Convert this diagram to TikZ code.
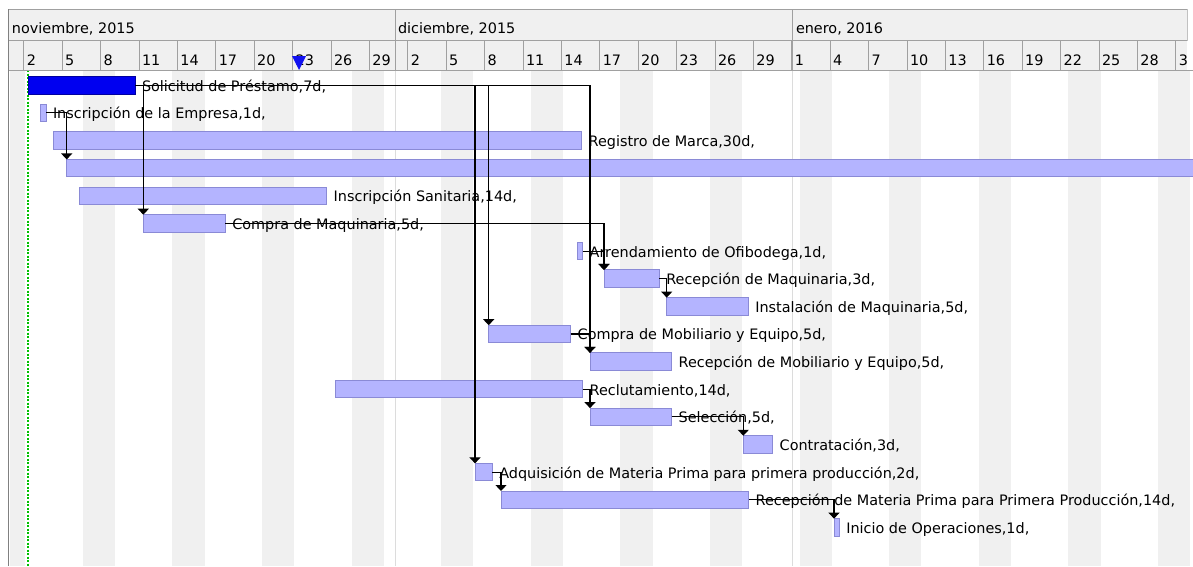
\documentclass[tikz,border=0pt]{standalone}
\usepackage{fontspec}
\setmainfont{DejaVu Sans}
\usetikzlibrary{arrows.meta}

\definecolor{hdrbg}{HTML}{F0F0F0}
\definecolor{hdrline}{HTML}{A0A0A0}
\definecolor{frameline}{HTML}{808080}
\definecolor{wkend}{HTML}{F0F0F0}
\definecolor{monthsep}{HTML}{DCDCDC}
\definecolor{taskfill}{HTML}{B4B4FF}
\definecolor{taskedge}{HTML}{8A8AD6}
\definecolor{critfill}{HTML}{0000F0}
\definecolor{critedge}{HTML}{0000A0}
\definecolor{startline}{HTML}{00C000}
\definecolor{todaymark}{HTML}{1010F0}

% one task row: optional bar style, name, row number, start x, end x, label
\newcommand\ganttrow[6][taskbar]{%
  \pgfmathsetmacro\rowy{85.3+27.63*(#3-1)}%
  \node[#1, minimum width={(#5-#4)*1pt}] (#2) at (#4,\rowy) {};%
  \node[tasklabel] (#2-label) at (#5+7,\rowy+6) {#6};%
}

\begin{document}
\begin{tikzpicture}[x=1pt,y=-1pt,
  font=\fontsize{14.4}{17}\selectfont,
  taskbar/.style={draw=taskedge, fill=taskfill, line width=1pt,
    minimum height=17.5pt, inner sep=0pt, outer sep=0pt, anchor=west},
  critbar/.style={taskbar, draw=critedge, fill=critfill},
  tasklabel/.style={anchor=base west, inner sep=0pt, outer sep=0pt},
  headlabel/.style={anchor=base west, inner sep=0pt, outer sep=0pt},
  dep/.style={draw=black, line width=1.1pt,
    -{Triangle[width=11pt,length=6pt]}},
]
\useasboundingbox (0,0) rectangle (1193,566);

\begin{scope}
\clip (0,0) rectangle (1193,566);

% weekend stripes in the chart body
\foreach \k in {-1,0,...,13}
  \fill[wkend] ({max(9.5,82.7+89.6*\k)},71) rectangle (115+89.6*\k,566);

% month boundaries in the chart body
\draw[monthsep, line width=1pt] (395,71) -- (395,566);
\draw[monthsep, line width=1pt] (792,71) -- (792,566);

% project start marker
\draw[startline, line width=1.3pt, dash pattern=on 2pt off 1.5pt] (28,70) -- (28,566);

% time scale header
\begin{scope}
\clip (0,0) rectangle (1187.5,71);
\fill[hdrbg] (8,9) rectangle (1187,70);
\draw[hdrline, line width=1pt] (8,9) -- (1187,9) -- (1187,40);
\draw[hdrline, line width=1pt] (8,40) -- (1193,40);
\draw[hdrline, line width=1pt] (8,70) -- (1193,70);
\draw[hdrline, line width=1pt] (395,9) -- (395,70);
\draw[hdrline, line width=1pt] (792,9) -- (792,70);

% month titles
\node[headlabel] (m-nov) at (12,33) {noviembre, 2015};
\node[headlabel] (m-dic) at (398,33) {diciembre, 2015};
\node[headlabel] (m-ene) at (796,33) {enero, 2016};

% day cells (three days each)
\foreach \dd in {2,5,...,29} {
  \pgfmathsetmacro\xx{11+12.8*(\dd-1)}
  \draw[hdrline, line width=1pt] (\xx,40) -- (\xx,70);
  \node[headlabel] (nov-\dd) at (\xx+3,65) {\dd};
}
\foreach \dd in {2,5,...,29} {
  \pgfmathsetmacro\xx{11+12.8*(\dd+29)}
  \draw[hdrline, line width=1pt] (\xx,40) -- (\xx,70);
  \node[headlabel] (dic-\dd) at (\xx+3,65) {\dd};
}
\foreach \dd in {1,4,...,31} {
  \pgfmathsetmacro\xx{11+12.8*(\dd+60)}
  \draw[hdrline, line width=1pt] (\xx,40) -- (\xx,70);
  \node[headlabel] (ene-\dd) at (\xx+3,65) {\dd};
}
\end{scope}
\draw[hdrline, line width=1pt] (1187,70) -- (1193,70);

% left frame
\draw[frameline, line width=1.5pt] (8.5,9) -- (8.5,566);

% today marker
\fill[todaymark] (292,56) -- (306,56) -- (299,70) -- cycle;

% task bars and labels
\ganttrow[critbar]{solicitud}{1}{28}{135}{Solicitud de Préstamo,7d,}
\ganttrow{inscempresa}{2}{40}{46}{Inscripción de la Empresa,1d,}
\ganttrow{registro}{3}{53.3}{581.7}{Registro de Marca,30d,}
\node[taskbar, minimum width=1140pt] (tramite) at (66.7,168.2) {};
\ganttrow{sanitaria}{5}{79}{326.7}{Inscripción Sanitaria,14d,}
\ganttrow{compramaq}{6}{143.3}{225.3}{Compra de Maquinaria,5d,}
\ganttrow{arrend}{7}{577.7}{582.7}{Arrendamiento de Ofibodega,1d,}
\ganttrow{recepmaq}{8}{604}{659.3}{Recepción de Maquinaria,3d,}
\ganttrow{instmaq}{9}{666.7}{748.3}{Instalación de Maquinaria,5d,}
\ganttrow{compramob}{10}{488.7}{570.7}{Compra de Mobiliario y Equipo,5d,}
\ganttrow{recepmob}{11}{590}{671.7}{Recepción de Mobiliario y Equipo,5d,}
\ganttrow{reclut}{12}{335}{582.7}{Reclutamiento,14d,}
\ganttrow{seleccion}{13}{590}{671.7}{Selección,5d,}
\ganttrow{contrat}{14}{743.3}{772.7}{Contratación,3d,}
\ganttrow{adqmp}{15}{475}{492.3}{Adquisición de Materia Prima para primera producción,2d,}
\ganttrow{recepmp}{16}{501}{748.7}{Recepción de Materia Prima para Primera Producción,14d,}
\ganttrow{inicio}{17}{834}{839.3}{Inicio de Operaciones,1d,}

% dependencies
\draw[dep] (solicitud.east) -| (compramaq.north west);
\draw[dep] (solicitud.east) -| (adqmp.north west);
\draw[dep] (solicitud.east) -| (compramob.north west);
\draw[dep] (solicitud.east) -| (recepmob.north west);
\draw[dep] (inscempresa.east) -| (tramite.north west);
\draw[dep] (compramaq.east) -| (recepmaq.north west);
\draw[dep] (arrend.east) -| (recepmaq.north west);
\draw[dep] (recepmaq.east) -| (instmaq.north west);
\draw[dep] (compramob.east) -| (recepmob.north west);
\draw[dep] (reclut.east) -| (seleccion.north west);
\draw[dep] (seleccion.east) -| (contrat.north west);
\draw[dep] (adqmp.east) -| (recepmp.north west);
\draw[dep] (recepmp.east) -| (inicio.north west);
\end{scope}
\end{tikzpicture}
\end{document}
